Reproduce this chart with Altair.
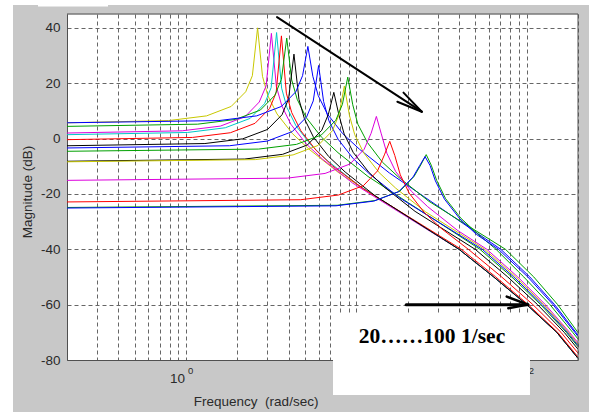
import altair as alt
import pandas as pd

# Bode magnitude curves: frequency in rad/sec, magnitude in dB
yellow_a_f  = [0.2, 0.79, 1.32, 1.84, 2.24, 2.45, 2.63, 2.81, 3.02, 3.42, 4.21, 5.26, 7.89, 40, 64, 100, 150, 200]
yellow_a_db = [5.7, 6.5, 8.2, 11.6, 16.9, 22.7, 40.0, 22.5, 15.5, 8.9, 1.8, -3.8, -12.4, -40, -50, -60, -70, -79.4]
magenta_a_f  = [0.2, 0.95, 1.59, 2.22, 2.69, 2.95, 3.17, 3.39, 3.65, 4.12, 5.07, 6.34, 9.51, 40, 64, 100, 150, 200]
magenta_a_db = [2.0, 2.8, 4.5, 7.9, 13.2, 19.0, 38.0, 18.8, 11.8, 5.2, -1.9, -7.5, -16.1, -40, -50, -60, -70, -79.4]
cyan_a_f  = [0.2, 1.02, 1.7, 2.38, 2.89, 3.16, 3.4, 3.64, 3.91, 4.42, 5.44, 6.8, 10.2, 40, 64, 100, 150, 200]
cyan_a_db = [1.4, 2.2, 3.9, 7.3, 12.6, 18.4, 38.3, 18.2, 11.2, 4.6, -2.5, -8.1, -16.7, -40, -50, -60, -70, -79.4]
red_a_f  = [0.2, 1.09, 1.82, 2.54, 3.09, 3.38, 3.63, 3.88, 4.17, 4.72, 5.81, 7.26, 10.9, 41.3, 65.8, 102, 152, 200]
red_a_db = [-0.4, 0.4, 2.1, 5.5, 10.8, 16.6, 37.1, 16.4, 9.4, 2.8, -4.3, -9.9, -18.0, -40, -50, -60, -70, -78.9]
green_a_f  = [0.2, 1.17, 1.95, 2.73, 3.32, 3.63, 3.9, 4.17, 4.49, 5.07, 6.24, 7.8, 11.7, 53.1, 81.7, 120.7, 170.7, 200]
green_a_db = [4.4, 5.2, 6.9, 10.3, 15.6, 21.4, 36.3, 21.2, 14.2, 7.6, 0.5, -5.1, -13.7, -40, -50, -60, -70, -75.2]
black_a_f  = [0.2, 1.29, 2.15, 3.01, 3.66, 4.0, 4.3, 4.6, 4.95, 5.59, 6.88, 8.6, 12.9, 40, 64, 100, 150, 200]
black_a_db = [-2.6, -1.8, -0.1, 3.3, 8.6, 14.4, 30.5, 14.2, 7.2, 0.6, -6.5, -12.1, -20.7, -40, -50, -60, -70, -79.4]
blue_a_f  = [0.2, 1.56, 2.6, 3.63, 4.41, 4.83, 5.19, 5.55, 5.97, 6.75, 8.3, 10.4, 15.6, 70.4, 104.3, 145.8, 194.4, 200]
blue_a_db = [5.7, 6.5, 8.2, 11.6, 16.9, 22.7, 33.3, 22.5, 15.5, 8.9, 1.8, -3.8, -12.4, -40, -50, -60, -70, -71.0]
blue_b_f  = [0.2, 1.8, 3.0, 4.2, 5.1, 5.58, 6.0, 6.42, 6.9, 7.8, 9.6, 12.0, 18.0, 54.8, 83.9, 123.3, 173.2, 200]
blue_b_db = [-3.4, -2.6, -0.9, 2.5, 7.8, 13.6, 26.4, 13.4, 6.4, -0.2, -7.3, -12.9, -21.5, -40, -50, -60, -70, -74.8]
black_b_f  = [0.2, 2.21, 3.69, 5.16, 6.26, 6.85, 7.37, 7.89, 8.48, 9.58, 11.8, 14.7, 22.1, 49.8, 77.4, 115.8, 165.9, 200]
black_b_db = [-8.2, -7.4, -5.7, -2.3, 3.0, 8.8, 16.7, 8.6, 1.6, -5.0, -12.1, -17.7, -26.3, -40, -50, -60, -70, -76.1]
yellow_b_f  = [0.2, 2.55, 4.25, 5.95, 7.23, 7.9, 8.5, 9.1, 9.78, 11.05, 13.6, 17.0, 25.5, 56.5, 86.2, 125.9, 175.7, 200]
yellow_b_db = [-8.4, -7.6, -5.9, -2.5, 2.8, 8.6, 19.0, 8.4, 1.4, -5.2, -12.3, -17.9, -26.5, -40, -50, -60, -70, -74.3]
green_b_f  = [0.2, 2.67, 4.45, 6.23, 7.57, 8.28, 8.9, 9.52, 10.2, 11.6, 14.2, 17.8, 26.7, 75, 110, 152, 200]
green_b_db = [-4.6, -3.8, -2.1, 1.3, 6.6, 12.4, 22.2, 12.2, 5.2, -1.4, -8.5, -14.1, -22.7, -40, -50, -60, -70.1]
magenta_b_f  = [0.2, 3.93, 6.55, 9.17, 11.1, 12.2, 13.1, 14.0, 15.1, 17.0, 21.0, 26.2, 39.3, 58.3, 88.6, 128.6, 178.3, 200]
magenta_b_db = [-15.1, -14.3, -12.6, -9.2, -3.9, 1.9, 8.0, 1.7, -5.3, -11.9, -19.0, -24.6, -33.2, -40, -50, -60, -70, -73.8]
red_b_f  = [0.2, 4.71, 7.85, 11.0, 13.3, 14.6, 15.7, 16.8, 18.1, 20.4, 25.1, 31.4, 45.4, 71.3, 108.7, 158.9, 200]
red_b_db = [-22.9, -22.1, -20.4, -17.0, -11.7, -5.9, -1.0, -6.1, -13.1, -19.7, -26.8, -32.4, -40, -50, -60, -70, -77.5]
green_c_f  = [0.2, 7.71, 12.85, 18.0, 21.8, 23.9, 25.7, 27.5, 29.6, 33.4, 41.1, 51.4, 66, 96.1, 136.9, 186.1, 200]
green_c_db = [-24.9, -24.1, -22.4, -19.0, -13.7, -9.5, -5.8, -9.6, -15.1, -21.7, -28.8, -34.4, -40, -50, -60, -70, -72.4]
blue_c_f  = [0.2, 7.59, 12.65, 17.7, 21.5, 23.5, 25.3, 27.1, 29.1, 32.9, 40.5, 50.6, 68.2, 101.5, 142.7, 191.5, 200]
blue_c_db = [-25.1, -24.3, -22.6, -19.2, -13.9, -9.8, -6.5, -9.8, -15.3, -21.9, -29.0, -34.6, -40, -50, -60, -70, -71.5]

# Line colours (MATLAB-style colour order)
YELLOW, MAGENTA, CYAN, RED = "#c8c800", "#dd00dd", "#00c8c8", "#ff0000"
GREEN, BLACK, BLUE = "#00a000", "#000000", "#0000ff"

series = [
    ("yellow_a", YELLOW, yellow_a_f, yellow_a_db),
    ("magenta_a", MAGENTA, magenta_a_f, magenta_a_db),
    ("cyan_a", CYAN, cyan_a_f, cyan_a_db),
    ("red_a", RED, red_a_f, red_a_db),
    ("green_a", GREEN, green_a_f, green_a_db),
    ("black_a", BLACK, black_a_f, black_a_db),
    ("blue_a", BLUE, blue_a_f, blue_a_db),
    ("blue_b", BLUE, blue_b_f, blue_b_db),
    ("black_b", BLACK, black_b_f, black_b_db),
    ("yellow_b", YELLOW, yellow_b_f, yellow_b_db),
    ("green_b", GREEN, green_b_f, green_b_db),
    ("magenta_b", MAGENTA, magenta_b_f, magenta_b_db),
    ("red_b", RED, red_b_f, red_b_db),
    ("green_c", GREEN, green_c_f, green_c_db),
    ("blue_c", BLUE, blue_c_f, blue_c_db),
]

# Axes
freq_domain = [0.2, 200]
mag_domain = [-80, 45]
grid_freqs = [0.2, 0.3, 0.4, 0.5, 0.6, 0.7, 0.8, 0.9,
              1, 2, 3, 4, 5, 6, 7, 8, 9,
              10, 20, 30, 40, 50, 60, 70, 80, 90, 100, 200]
mag_ticks = [-80, -60, -40, -20, 0, 20, 40]
decade_labels = [1, 100]
decade_exponents = ["0", "2"]

# Annotations: trend arrow, range arrow, label box
arrow_f1 = [3.42, 18.9, 17.4, 19.6, 76.3, 78.0]
arrow_db1 = [43.9, 16.6, 13.3, -60.0, -57.1, -61.3]
arrow_f2 = [24.2, 24.2, 24.2, 101.7, 101.7, 101.7]
arrow_db2 = [9.7, 9.7, 9.7, -60.0, -60.0, -60.0]
arrow_widths = [2, 2, 2, 3, 2.5, 2.5]
box_f = [7.29, 104.5]
box_db = [-63.0, -92.6]
range_text = "20……100 1/sec"
range_text_f = 27.8
range_text_db = -73.9

W, H = 511, 346
FONT = "Liberation Sans"
TEXT = "#2a2a2a"
FRAME = "#505050"
GRID = "#666666"

rows = []
for name, color, fs, dbs in series:
    for i, (f, m) in enumerate(zip(fs, dbs)):
        rows.append({"curve": name, "color": color, "freq": f, "mag": m, "idx": i})
curves_df = pd.DataFrame(rows)

x_scale = alt.Scale(type="log", domain=freq_domain, nice=False)
y_scale = alt.Scale(domain=mag_domain, nice=False, zero=False)

x_axis = alt.Axis(
    values=grid_freqs, grid=True, gridDash=[4, 3], gridColor=GRID, gridWidth=1,
    labels=False, ticks=False, domain=True, domainColor=FRAME, domainWidth=1,
    title="Frequency\u00a0\u00a0(rad/sec)", titleFont=FONT, titleFontSize=13.5,
    titleFontWeight="normal", titleColor=TEXT, titleX=188.6, titleY=45.5,
    titleAlign="center", titleBaseline="alphabetic", zindex=0,
)
y_axis = alt.Axis(
    values=mag_ticks, grid=True, gridDash=[4, 3], gridColor=GRID, gridWidth=1,
    ticks=False, domain=True, domainColor=FRAME, domainWidth=1,
    labelExpr="'' + datum.value", labelFont=FONT, labelFontSize=13.5,
    labelColor=TEXT, labelPadding=7,
    title="Magnitude (dB)", titleFont=FONT, titleFontSize=13.5,
    titleFontWeight="normal", titleColor=TEXT, titleAngle=270,
    titleX=-35.3, titleY=177.5, titleAlign="center", titleBaseline="alphabetic",
    zindex=0,
)

lines = alt.Chart(curves_df).mark_line(strokeWidth=1).encode(
    x=alt.X("freq:Q", scale=x_scale, axis=x_axis),
    y=alt.Y("mag:Q", scale=y_scale, axis=y_axis),
    color=alt.Color("color:N", scale=None),
    detail="curve:N",
    order="idx:Q",
)

# top and right sides of the axes box
frame_df = pd.DataFrame({
    "freq": [freq_domain[0], freq_domain[1]],
    "freq2": [freq_domain[1], freq_domain[1]],
    "mag": [mag_domain[1], mag_domain[0]],
    "mag2": [mag_domain[1], mag_domain[1]],
})
frame = alt.Chart(frame_df).mark_rule(color=FRAME, strokeWidth=1).encode(
    x="freq:Q", x2="freq2:Q", y="mag:Q", y2="mag2:Q"
)

# decade tick labels written as 10 with a raised exponent
dec_df = pd.DataFrame({"freq": decade_labels, "exp": decade_exponents})
dec_base = alt.Chart(dec_df).mark_text(
    text="10", align="right", baseline="alphabetic", dx=-1,
    font=FONT, fontSize=13.5, color=TEXT,
).encode(x="freq:Q", y=alt.value(H + 23.3))
dec_exp = alt.Chart(dec_df).mark_text(
    align="left", baseline="alphabetic", dx=2,
    font=FONT, fontSize=9.5, color=TEXT,
).encode(x="freq:Q", y=alt.value(H + 14), text="exp:N")

arrow_df = pd.DataFrame({
    "freq": arrow_f1, "mag": arrow_db1,
    "freq2": arrow_f2, "mag2": arrow_db2, "w": arrow_widths,
})
arrows = alt.Chart(arrow_df).mark_rule(color="black", strokeCap="round").encode(
    x="freq:Q", y="mag:Q", x2="freq2:Q", y2="mag2:Q",
    strokeWidth=alt.StrokeWidth("w:Q", scale=None),
)

box_df = pd.DataFrame({"freq": [box_f[0]], "freq2": [box_f[1]],
                       "mag": [box_db[0]], "mag2": [box_db[1]]})
box = alt.Chart(box_df).mark_rect(color="white").encode(
    x="freq:Q", x2="freq2:Q", y="mag:Q", y2="mag2:Q"
)

label_df = pd.DataFrame({"freq": [range_text_f], "mag": [range_text_db], "t": [range_text]})
label = alt.Chart(label_df).mark_text(
    font="Liberation Serif", fontSize=21.5, fontWeight="bold", color="black",
    align="center", baseline="alphabetic",
).encode(x="freq:Q", y="mag:Q", text="t:N")

# white margin strips along the top and left of the figure
one = pd.DataFrame({"a": [0]})
strip_top = alt.Chart(one).mark_rect(color="white").encode(
    x=alt.value(-67), x2=alt.value(W + 11), y=alt.value(-14), y2=alt.value(-9)
)
strip_left = alt.Chart(one).mark_rect(color="white").encode(
    x=alt.value(-67), x2=alt.value(-54), y=alt.value(-14), y2=alt.value(H + 52)
)
strip_notch = alt.Chart(one).mark_rect(color="white").encode(
    x=alt.value(-29), x2=alt.value(41), y=alt.value(-14), y2=alt.value(-7.5)
)

chart = alt.layer(
    lines, frame, dec_base, dec_exp, box, label, arrows,
    strip_top, strip_left, strip_notch,
).properties(
    width=W, height=H,
    padding={"left": 67, "top": 14, "right": 11, "bottom": 52},
    autosize=alt.AutoSizeParams(type="none"),
    background="#c8c8c8",
).configure_view(fill="white", stroke="transparent")

chart.save("out.html", embed_options={"renderer": "svg", "actions": False})
